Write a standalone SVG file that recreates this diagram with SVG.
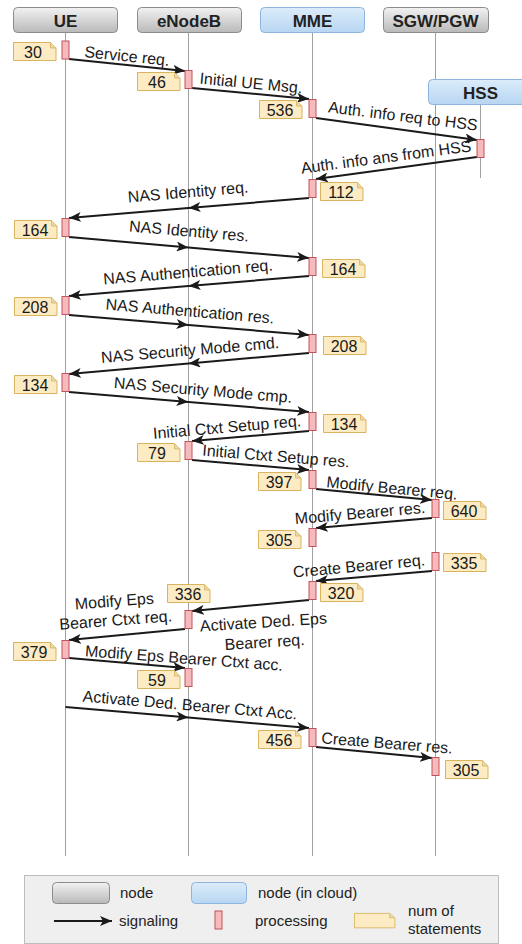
<svg xmlns="http://www.w3.org/2000/svg" xmlns:xlink="http://www.w3.org/1999/xlink" width="522" height="944" viewBox="0 0 522 944">
  <defs>
    <linearGradient id="gGray" x1="0" y1="0" x2="0" y2="1">
      <stop offset="0" stop-color="#f2f2f2"/>
      <stop offset="1" stop-color="#b9b9b9"/>
    </linearGradient>
    <linearGradient id="gBlue" x1="0" y1="0" x2="0" y2="1">
      <stop offset="0" stop-color="#dcecfa"/>
      <stop offset="1" stop-color="#b7d6f2"/>
    </linearGradient>
    <marker id="arrow" markerUnits="userSpaceOnUse" markerWidth="12" markerHeight="10" viewBox="0 0 12 10" refX="12" refY="5" orient="auto">
      <path d="M0,0 L12,5 L0,10 L3,5 Z" fill="#1a1a1a"/>
    </marker>
    <symbol id="note" overflow="visible">
      <path d="M0.5,0.5 H37.5 L43,6 V18.5 H0.5 Z" fill="#fdebc3" stroke="#d9b35e" stroke-width="1"/>
      <path d="M37.5,0.5 V6 H43" fill="#ead7a8" stroke="#d9b35e" stroke-width="0.8"/>
    </symbol>
    <symbol id="proc" overflow="visible">
      <rect x="0.5" y="0.5" width="7" height="18" fill="#f6b9bc" stroke="#c0545a" stroke-width="1"/>
    </symbol>
  </defs>
  <style>
    .hdr { stroke-width: 1; }
    .hdr-gray { fill: url(#gGray); stroke: #8c8c8c; }
    .hdr-blue { fill: url(#gBlue); stroke: #8db6de; }
    .hdr-text { font-family: "Liberation Sans", Arial, sans-serif; font-weight: bold; font-size: 17px; fill: #222; text-anchor: middle; }
    .life { stroke: #a0a0a0; stroke-width: 1; fill: none; }
    .msg { stroke: #1a1a1a; stroke-width: 2; fill: none; marker-end: url(#arrow); }
    .msg2 { marker-mid: url(#arrow); }
    .lbl { font-family: "Liberation Sans", Arial, sans-serif; font-size: 16px; fill: #1a1a1a; text-anchor: middle; }
    .num { font-family: "Liberation Sans", Arial, sans-serif; font-size: 16px; fill: #1a1a1a; text-anchor: middle; }
    .leg { font-family: "Liberation Sans", Arial, sans-serif; font-size: 15px; fill: #222; }
  </style>

  <!-- lifelines -->
  <g id="lifelines">
    <line class="life" x1="65.5" y1="32" x2="65.5" y2="856"/>
    <line class="life" x1="188.5" y1="32" x2="188.5" y2="856"/>
    <line class="life" x1="312.5" y1="32" x2="312.5" y2="856"/>
    <line class="life" x1="435.5" y1="32" x2="435.5" y2="856"/>
    <line class="life" x1="480.5" y1="104" x2="480.5" y2="178"/>
  </g>

  <!-- participants -->
  <g id="node-ue">
    <rect class="hdr hdr-gray" x="13.5" y="7.5" width="104" height="25" rx="4"/>
    <text class="hdr-text" x="65.5" y="26.5">UE</text>
  </g>
  <g id="node-enodeb">
    <rect class="hdr hdr-gray" x="137.5" y="7.5" width="104" height="25" rx="4"/>
    <text class="hdr-text" x="189" y="26.5">eNodeB</text>
  </g>
  <g id="node-mme">
    <rect class="hdr hdr-blue" x="260.5" y="7.5" width="104" height="25" rx="4"/>
    <text class="hdr-text" x="312.5" y="26.5">MME</text>
  </g>
  <g id="node-sgw">
    <rect class="hdr hdr-gray" x="383.5" y="7.5" width="105" height="25" rx="4"/>
    <text class="hdr-text" x="435.5" y="26.5">SGW/PGW</text>
  </g>
  <g id="node-hss">
    <rect class="hdr hdr-blue" x="428.5" y="79.5" width="100" height="25" rx="4"/>
    <text class="hdr-text" x="480.5" y="98.5">HSS</text>
  </g>

  <!-- signaling messages -->
  <g id="connectors">
    <path class="msg" d="M69,59 L185,71"/>
    <path class="msg" d="M192,88 L309,99"/>
    <path class="msg" d="M316,118 L477,140"/>
    <path class="msg" d="M477,157 L316,179"/>
    <path class="msg msg2" d="M309,198 L188.5,208 L69,218"/>
    <path class="msg msg2" d="M69,237 L188.5,247.5 L309,258"/>
    <path class="msg msg2" d="M309,276 L188.5,286 L69,296"/>
    <path class="msg msg2" d="M69,315 L188.5,325 L309,335"/>
    <path class="msg msg2" d="M309,353 L188.5,363.5 L69,374"/>
    <path class="msg msg2" d="M69,392 L188.5,402 L309,412"/>
    <path class="msg" d="M309,431 L192,441"/>
    <path class="msg" d="M192,460 L309,470"/>
    <path class="msg" d="M316,489 L432,500"/>
    <path class="msg" d="M432,518 L316,528"/>
    <path class="msg" d="M432,571 L316,581"/>
    <path class="msg" d="M309,600 L192,611"/>
    <path class="msg" d="M185,629 L69,640"/>
    <path class="msg" d="M69,658 L185,668"/>
    <path class="msg msg2" d="M65.5,707 L188.5,717.5 L309,728"/>
    <path class="msg" d="M316,747 L432,758"/>

    <!-- message labels -->
    <text class="lbl" transform="translate(127,56) rotate(5.9)" y="5.5">Service req.</text>
    <text class="lbl" transform="translate(251,83) rotate(5.4)" y="5.5">Initial UE Msg.</text>
    <text class="lbl" transform="translate(403,116) rotate(7)" y="5.5">Auth. info req to HSS</text>
    <text class="lbl" transform="translate(386,157) rotate(-7.5)" y="5.5">Auth. info ans from HSS</text>
    <text class="lbl" transform="translate(188,192) rotate(-4.8)" y="5.5">NAS Identity req.</text>
    <text class="lbl" transform="translate(189,231) rotate(4.8)" y="5.5">NAS Identity res.</text>
    <text class="lbl" transform="translate(188,272) rotate(-4.8)" y="5.5">NAS Authentication req.</text>
    <text class="lbl" transform="translate(190,311) rotate(4.8)" y="5.5">NAS Authentication res.</text>
    <text class="lbl" transform="translate(190,350) rotate(-4.8)" y="5.5">NAS Security Mode cmd.</text>
    <text class="lbl" transform="translate(203,390) rotate(4.8)" y="5.5">NAS Security Mode cmp.</text>
    <text class="lbl" transform="translate(227,427) rotate(-4.9)" y="5.5">Initial Ctxt Setup req.</text>
    <text class="lbl" transform="translate(276,456) rotate(4.6)" y="5.5">Initial Ctxt Setup res.</text>
    <text class="lbl" transform="translate(392,488) rotate(5.4)" y="5.5">Modify Bearer req.</text>
    <text class="lbl" transform="translate(360,513) rotate(-4.9)" y="5.5">Modify Bearer res.</text>
    <text class="lbl" transform="translate(359,566) rotate(-5.3)" y="5.5">Create Bearer req.</text>
    <text class="lbl" transform="translate(264,632) rotate(-3.5)"><tspan x="0" y="-4.5">Activate Ded. Eps</tspan><tspan x="0" y="15.5">Bearer req.</tspan></text>
    <text class="lbl" transform="translate(115,611) rotate(-4.3)"><tspan x="0" y="-4.5">Modify Eps</tspan><tspan x="0" y="14.5">Bearer Ctxt req.</tspan></text>
    <text class="lbl" transform="translate(184,658) rotate(4.2)" y="5.5">Modify Eps Bearer Ctxt acc.</text>
    <text class="lbl" transform="translate(190,705) rotate(4.8)" y="5.5">Activate Ded. Bearer Ctxt Acc.</text>
    <text class="lbl" transform="translate(387,743) rotate(4.5)" y="5.5">Create Bearer res.</text>
  </g>

  <!-- processing bars -->
  <g id="processing">
    <use href="#proc" x="61.5" y="40.5"/>
    <use href="#proc" x="184.5" y="70"/>
    <use href="#proc" x="308.5" y="99"/>
    <use href="#proc" x="476.5" y="139"/>
    <use href="#proc" x="308.5" y="179"/>
    <use href="#proc" x="61.5" y="218"/>
    <use href="#proc" x="308.5" y="257"/>
    <use href="#proc" x="61.5" y="296"/>
    <use href="#proc" x="308.5" y="334"/>
    <use href="#proc" x="61.5" y="373"/>
    <use href="#proc" x="308.5" y="412"/>
    <use href="#proc" x="184.5" y="441"/>
    <use href="#proc" x="308.5" y="470"/>
    <use href="#proc" x="431.5" y="499"/>
    <use href="#proc" x="308.5" y="528"/>
    <use href="#proc" x="431.5" y="552"/>
    <use href="#proc" x="308.5" y="581"/>
    <use href="#proc" x="184.5" y="610"/>
    <use href="#proc" x="61.5" y="640"/>
    <use href="#proc" x="184.5" y="668"/>
    <use href="#proc" x="308.5" y="728"/>
    <use href="#proc" x="431.5" y="757"/>
  </g>

  <!-- statement counts -->
  <g id="notes">
    <use href="#note" x="13" y="42"/><text class="num" x="33" y="57.5">30</text>
    <use href="#note" x="137" y="72"/><text class="num" x="157" y="87.5">46</text>
    <use href="#note" x="259" y="100"/><text class="num" x="280" y="115.5">536</text>
    <use href="#note" x="320" y="182"/><text class="num" x="341" y="197.5">112</text>
    <use href="#note" x="14" y="220"/><text class="num" x="35" y="235.5">164</text>
    <use href="#note" x="322" y="259"/><text class="num" x="343" y="274.5">164</text>
    <use href="#note" x="14" y="297"/><text class="num" x="35" y="312.5">208</text>
    <use href="#note" x="323" y="336"/><text class="num" x="344" y="351.5">208</text>
    <use href="#note" x="14" y="375"/><text class="num" x="35" y="390.5">134</text>
    <use href="#note" x="323" y="414"/><text class="num" x="344" y="429.5">134</text>
    <use href="#note" x="137" y="443"/><text class="num" x="157" y="458.5">79</text>
    <use href="#note" x="258" y="472"/><text class="num" x="279" y="487.5">397</text>
    <use href="#note" x="443" y="501"/><text class="num" x="464" y="516.5">640</text>
    <use href="#note" x="258" y="530"/><text class="num" x="279" y="545.5">305</text>
    <use href="#note" x="443" y="553"/><text class="num" x="464" y="568.5">335</text>
    <use href="#note" x="320" y="583"/><text class="num" x="341" y="598.5">320</text>
    <use href="#note" x="167" y="584"/><text class="num" x="188" y="599.5">336</text>
    <use href="#note" x="13" y="642"/><text class="num" x="34" y="657.5">379</text>
    <use href="#note" x="137" y="670"/><text class="num" x="157" y="685.5">59</text>
    <use href="#note" x="258" y="730"/><text class="num" x="279" y="745.5">456</text>
    <use href="#note" x="445" y="760"/><text class="num" x="466" y="775.5">305</text>
  </g>

  <!-- legend -->
  <g id="legend">
    <rect x="24.5" y="875.5" width="474" height="68" fill="#efefef" stroke="#bdbdbd"/>
    <rect class="hdr hdr-gray" x="52.5" y="882.5" width="57" height="21" rx="4"/>
    <text class="leg" x="120" y="898">node</text>
    <rect class="hdr hdr-blue" x="191.5" y="882.5" width="55" height="21" rx="4"/>
    <text class="leg" x="258" y="898">node (in cloud)</text>
    <line x1="54" y1="921" x2="112" y2="921" stroke="#1a1a1a" stroke-width="2" marker-end="url(#arrow)"/>
    <text class="leg" x="119" y="926">signaling</text>
    <use href="#proc" x="214.5" y="910.5"/>
    <text class="leg" x="255" y="926">processing</text>
    <use href="#note" x="354" y="913" transform="translate(354,913) scale(0.95,0.8) translate(-354,-913)"/>
    <text class="leg" x="408" y="916">num of</text>
    <text class="leg" x="408" y="934">statements</text>
  </g>
</svg>
